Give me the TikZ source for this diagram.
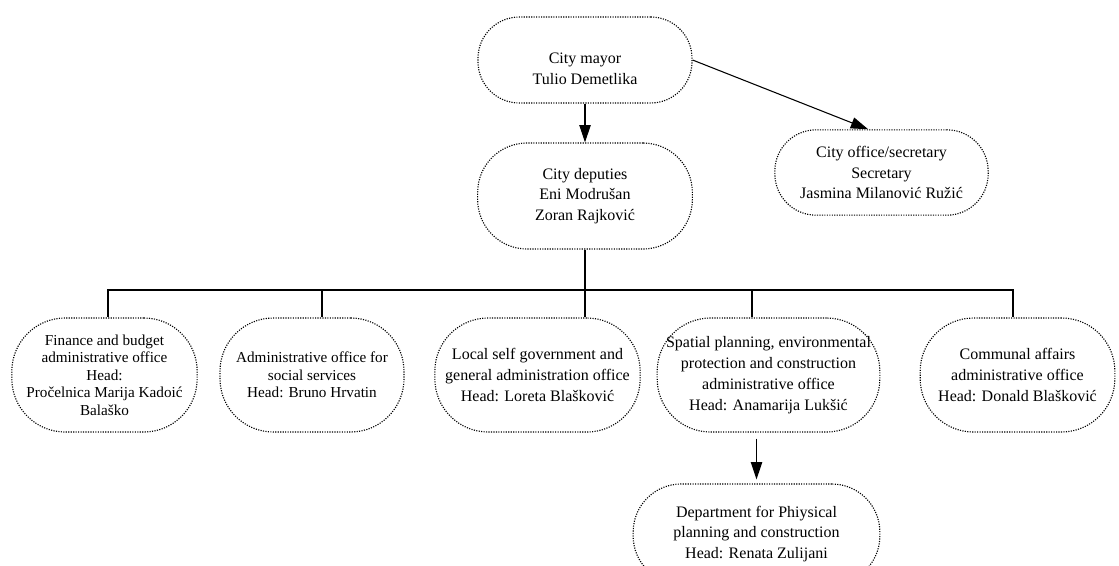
\documentclass[tikz,border=0pt]{standalone}
\usepackage{fontspec}
\setmainfont{Liberation Serif}
\usepackage{tikz}
\usetikzlibrary{arrows.meta, positioning, calc}
\tikzset{
    unit/.style={rectangle, rounded corners=40pt, draw=black, line width=0.85pt, dash pattern=on 0.85pt off 1pt, align=center, inner sep=2pt, minimum height=85.5pt, font=\fontsize{12}{15.6}\selectfont},
    smallunit/.style={unit, font=\fontsize{11.4}{13.1}\selectfont},
    link/.style={line width=0.8pt},
    arrow/.style={link, -{Triangle[length=13pt, width=8.5pt]}}
}

\begin{document}
\begin{tikzpicture}[x=0.75pt, y=-0.75pt]
    \useasboundingbox (0,0) rectangle (1119,565);

    \node[unit, rounded corners=31pt, minimum width=160.5pt, minimum height=64.5pt] (mayor) at (585,60) {\rule{0pt}{21pt}City mayor\\Tulio Demetlika};
    \node[unit, rounded corners=37pt, minimum width=161pt, minimum height=79.5pt] (deputies) at (585,196) {City deputies\\Eni Modrušan\\Zoran Rajković};
    \node[unit, rounded corners=31pt, minimum width=160pt, minimum height=64pt] (secretary) at (881.5,172.5) {City office/secretary\\Secretary\\Jasmina Milanović Ružić};

    % offices
    \node[smallunit, minimum width=139pt] (finance) at (104.5,375) {Finance and budget\\administrative office\\Head:\\Pročelnica Marija Kadoić\\Balaško};
    \node[smallunit, minimum width=138pt] (social) at (312,375) {Administrative office for\\social services\\Head: Bruno Hrvatin};
    \node[unit, minimum width=154pt] (local) at (537.5,375) {Local self government and\\general administration office\\Head: Loreta Blašković};
    \node[unit, minimum width=167pt] (spatial) at (768.5,375) {Spatial planning, environmental\\protection and construction\\administrative office\\Head: Anamarija Lukšić};
    \node[unit, minimum width=146pt] (communal) at (1017.5,375) {Communal affairs\\administrative office\\Head: Donald Blašković};
    \node[unit, rounded corners=36pt, minimum width=185pt, minimum height=75pt] (dept) at (756.5,534) {Department for Phiysical\\planning and construction\\Head: Renata Zulijani};

    \draw[arrow] (mayor) -- (deputies);
    \draw[arrow] (mayor.east) -- ([xshift=-10pt]secretary.north);

    \coordinate (bus) at (585,290);
    \draw[link] (deputies.south) -- (bus);
    \foreach \o/\dx in {finance/2.6pt, social/7.5pt, local/35.6pt, spatial/-12.4pt, communal/-3.4pt}
        \draw[link] (bus) -| ([xshift=\dx]\o.north);

    \draw[arrow] ([yshift=-4.5pt]dept.north |- spatial.south) -- ([yshift=3pt]dept.north);
\end{tikzpicture}
\end{document}
